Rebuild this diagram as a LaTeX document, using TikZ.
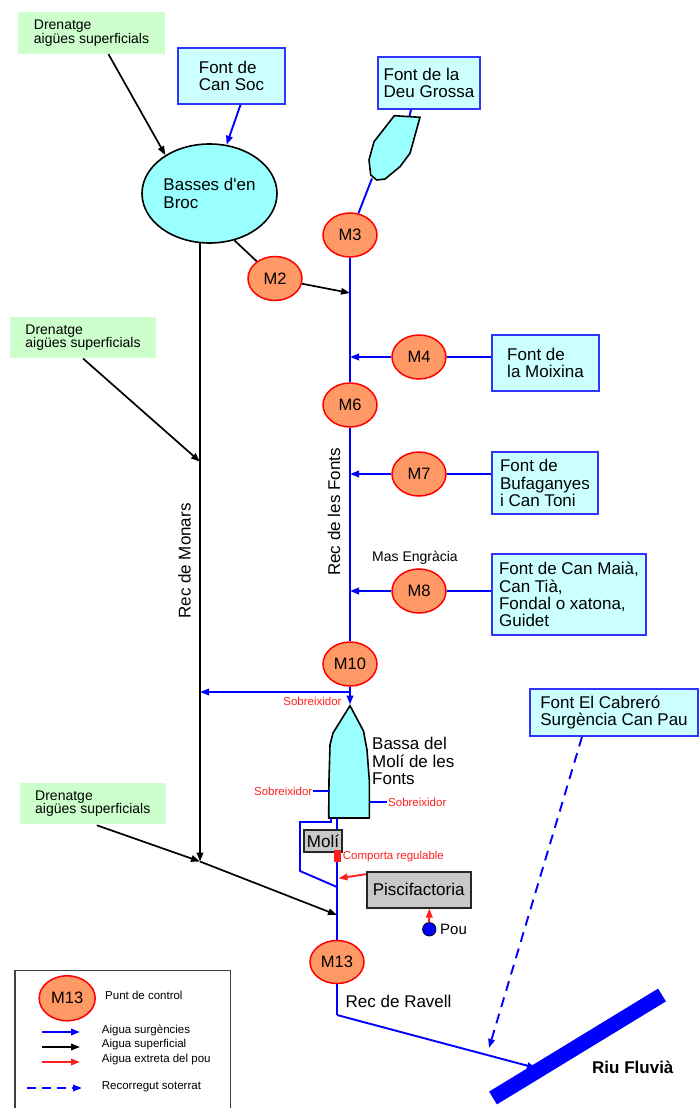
\documentclass[tikz,border=0pt]{standalone}
\usepackage{fontspec}
\setmainfont{Liberation Sans}
\usetikzlibrary{shapes.geometric,arrows.meta,calc}
\definecolor{mfill}{HTML}{FF9966}
\definecolor{srcfill}{HTML}{CCFFFF}
\definecolor{pondfill}{HTML}{99FFFF}
\definecolor{drfill}{HTML}{CCFFCC}
\definecolor{grayfill}{HTML}{C8C8C8}
\definecolor{srcline}{HTML}{3333FF}
\definecolor{wred}{HTML}{FF2020}
\definecolor{wblue}{HTML}{0000FF}
\begin{document}
\begin{tikzpicture}[x=1pt,y=-1pt,
 mainfont/.style={font=\fontsize{17}{17.2}\selectfont},
 mpt/.style={ellipse,draw=red,fill=mfill,line width=1.5pt,minimum width=54pt,minimum height=44pt,inner sep=0pt,font=\fontsize{16.5}{17}\selectfont},
 srcbox/.style={rectangle,draw=srcline,fill=srcfill,line width=1.6pt,align=left,inner sep=0pt,mainfont},
 drbox/.style={rectangle,fill=drfill,align=left,inner sep=0pt,font=\fontsize{14}{13.5}\selectfont},
 graybox/.style={rectangle,draw=black!85,fill=grayfill,line width=1.6pt,inner sep=0pt,mainfont},
 lbl/.style={inner sep=0pt},
 redlbl/.style={inner sep=0pt,text=wred,font=\fontsize{11.5}{12}\selectfont},
 legtxt/.style={inner sep=0pt,anchor=west,font=\fontsize{11.5}{12}\selectfont},
 tip/.style={-{Triangle[length=9pt,width=6.5pt]}},
 bflow/.style={draw=wblue,line width=1.9pt},
 kflow/.style={draw=black,line width=1.7pt},
 rflow/.style={draw=wred,line width=1.9pt},
 pond/.style={draw=black,line width=1.6pt,fill=pondfill},
]
\useasboundingbox (0,0) rectangle (700,1108);

% ---------- coordinates ----------
\coordinate (deuT) at (409.5,116);
\coordinate (deuB) at (372,178.5);
\coordinate (j2) at (350,293);
\coordinate (j10) at (350,692);
\coordinate (bassaT) at (350,704.5);
\coordinate (mon0) at (200,242.5);
\coordinate (jD2) at (200,461.7);
\coordinate (jM) at (200,861.5);
\coordinate (j13) at (337,915);
\coordinate (b0) at (337,818);
\coordinate (r1) at (337,1015);
\coordinate (r2) at (536,1068);
\coordinate (r3) at (489,1048);
\coordinate (sL) at (329.5,791);
\coordinate (sR0) at (370,802);
\coordinate (sR1) at (387,802);
\coordinate (riuA) at (493,1098);
\coordinate (riuB) at (662,995);

% ---------- nodes ----------
\node[drbox,minimum width=147pt,minimum height=42pt] (dren1) at (91.5,33) {Drenatge\\aigües superficials};
\node[drbox,minimum width=146pt,minimum height=41.6pt] (dren2) at (83,337.5) {Drenatge\\aigües superficials};
\node[drbox,minimum width=145.7pt,minimum height=40.7pt] (dren3) at (92.8,803.7) {Drenatge\\aigües superficials};

\node[srcbox,minimum width=107pt,minimum height=56pt] (cansoc) at (231.5,76) {Font de\\Can Soc};
\node[srcbox,minimum width=102pt,minimum height=52pt] (deu) at (429,83) {Font de la\\Deu Grossa};
\node[srcbox,minimum width=107pt,minimum height=56pt] (moix) at (545.5,363) {Font de\\la Moixina};
\node[srcbox,minimum width=106pt,minimum height=62pt] (bufa) at (545,483) {Font de\\Bufaganyes\\i Can Toni};
\node[srcbox,minimum width=154pt,minimum height=81pt] (maia) at (569,594.5) {Font de Can Maià,\\Can Tià,\\Fondal o xatona,\\Guidet};
\node[srcbox,minimum width=168pt,minimum height=47pt] (cabr) at (614,712.5) {Font El Cabreró\\Surgència Can Pau};

\node[pond,ellipse,minimum width=135pt,minimum height=99pt,inner sep=0pt,align=left,mainfont] (basses) at (209.5,193.5) {Basses d\textquotesingle en\\Broc};

% Deu Grossa pond
\draw[pond] (394.3,115.7) -- (420,117.3) -- (416,131.7) -- (410,153.3) -- (400,166.7) -- (385,179) -- (376.7,180) -- (370.7,175) -- (369,160) -- (374,141.7) -- cycle;

\node[mpt] (m3) at (350,235) {M3};
\node[mpt] (m2) at (275,278.5) {M2};
\node[mpt] (m4) at (419,357) {M4};
\node[mpt] (m6) at (350,405) {M6};
\node[mpt] (m7) at (419,474) {M7};
\node[mpt] (m8) at (419,591) {M8};
\node[mpt] (m10) at (350,664) {M10};
\node[mpt,minimum height=43pt] (m13) at (337,962) {M13};

\node[lbl,font=\fontsize{14}{14}\selectfont] (mas) at (415,558) {Mas Engràcia};
\node[lbl,rotate=90,mainfont] (recf) at (334,512) {Rec de les Fonts};
\node[lbl,rotate=90,mainfont] (recm) at (184.5,561) {Rec de Monars};

% ---------- blue flows ----------
\draw[bflow,tip] ($(cansoc.south)+(9,0)$) -- (basses);
\draw[bflow] ($(deu.south)+(-18,0)$) -- (deuT);
\draw[bflow] (deuB) -- (m3);
\draw[bflow] (m3.south) -- (m6.north);
\draw[bflow] (m6.south) -- (m10.north);
\draw[bflow] (m4.east) -- (m4 -| moix.west);
\draw[bflow,tip] (m4.west) -- (m4 -| j2);
\draw[bflow] (m7.east) -- (m7 -| bufa.west);
\draw[bflow,tip] (m7.west) -- (m7 -| j2);
\draw[bflow] (m8.east) -- (m8 -| maia.west);
\draw[bflow,tip] (m8.west) -- (m8 -| j2);
\draw[bflow] (m10.south) -- (j10);
\draw[bflow,tip] (j10) -- (j10 -| mon0);
\draw[bflow,tip] (j10) -- (bassaT);

% Bassa del Moli
\draw[pond] (350,705.7) -- (363.5,731) -- (367,750) -- (369.3,780) -- (369.3,818) -- (328.7,818) -- (329,780) -- (330,745) -- (333,733) -- cycle;
\node[lbl,anchor=west,align=left,mainfont] (bassatxt) at (372,761) {Bassa del\\Molí de les\\Fonts};

\node[redlbl] (sob1) at (312.5,701) {Sobreixidor};
\node[redlbl,anchor=east] (sob2) at (312.5,791) {Sobreixidor};
\draw[bflow] (sob2.east) -- (sL);
\node[redlbl,anchor=west] (sob3) at (388,802) {Sobreixidor};
\draw[bflow] (sR0) -- (sR1);

\draw[bflow] (b0) -- (m13.north);
\draw[bflow] (331,818) -- (331,822) -- (300,822) -- (300,871) -- (337,887);

\node[graybox,minimum width=38pt,minimum height=22pt] (moli) at (323,841) {Molí};
\node[fill=wred,minimum width=7pt,minimum height=11.7pt,inner sep=0pt] (comp) at (337,856) {};
\node[redlbl,anchor=west] (comptxt) at (342.7,857) {Comporta regulable};
\node[graybox,minimum width=104pt,minimum height=36pt] (pisc) at (418.7,889.7) {Piscifactoria};
\draw[rflow,tip] ($(pisc.north west)+(0,3.3)$) -- (338.5,878.3);
\node[circle,draw=black,fill=wblue,minimum size=13.4pt,inner sep=0pt,line width=0.8pt] (pou) at (429.3,929.3) {};
\draw[rflow,tip] (pou) -- (pou |- pisc.south);
\node[lbl,anchor=west,font=\fontsize{15}{15}\selectfont] (poutxt) at (440,929) {Pou};

% ---------- black flows ----------
\draw[kflow,tip] ($(dren1.south)+(17,0)$) -- (basses.139);
\draw[kflow] (basses.-62) -- (m2);
\draw[kflow,tip] (m2) -- (j2);
\draw[kflow,tip] (mon0) -- (jM);
\draw[kflow,tip] (dren2.south) -- (jD2);
\draw[kflow,tip] ($(dren3.south)+(4,1)$) -- (jM);
\draw[kflow,tip] (jM) -- (j13);

% ---------- Rec de Ravell, river ----------
\draw[bflow] (m13.south) -- (r1);
\draw[bflow,tip] (r1) -- (r2);
\node[lbl,anchor=west,mainfont] (ravell) at (345.5,1001) {Rec de Ravell};
\draw[wblue,line width=15pt] (riuA) -- (riuB);
\node[lbl,anchor=west,font=\bfseries\fontsize{17}{17}\selectfont] (riu) at (592,1067) {Riu Fluvià};
\draw[bflow,dash pattern=on 10pt off 7pt,tip] ($(cabr.south)+(-32,0)$) -- (r3);

% ---------- legend ----------
\draw[draw=black!75,line width=1.4pt] (15,970.7) rectangle (230.7,1115);
\node[mpt,minimum width=56pt,minimum height=45pt] (lm13) at (67.2,998.3) {M13};
\node[legtxt] (lt1) at (105,995) {Punt de control};
\coordinate (la0) at (41.7,1032); \coordinate (la1) at (80,1032);
\coordinate (lb0) at (41.7,1047); \coordinate (lb1) at (80,1047);
\coordinate (lc0) at (41.7,1062); \coordinate (lc1) at (80,1062);
\coordinate (ld0) at (26.7,1088); \coordinate (ld1) at (82,1088);
\draw[bflow,tip] (la0) -- (la1);
\draw[kflow,tip] (lb0) -- (lb1);
\draw[rflow,tip] (lc0) -- (lc1);
\draw[bflow,dash pattern=on 9pt off 6pt,tip] (ld0) -- (ld1);
\node[legtxt] (lt2) at (101.7,1030) {Aigua surgències};
\node[legtxt] (lt3) at (101.7,1045) {Aigua superficial};
\node[legtxt] (lt4) at (101.7,1060) {Aigua extreta del pou};
\node[legtxt] (lt5) at (101.7,1086.7) {Recorregut soterrat};
\end{tikzpicture}
\end{document}
